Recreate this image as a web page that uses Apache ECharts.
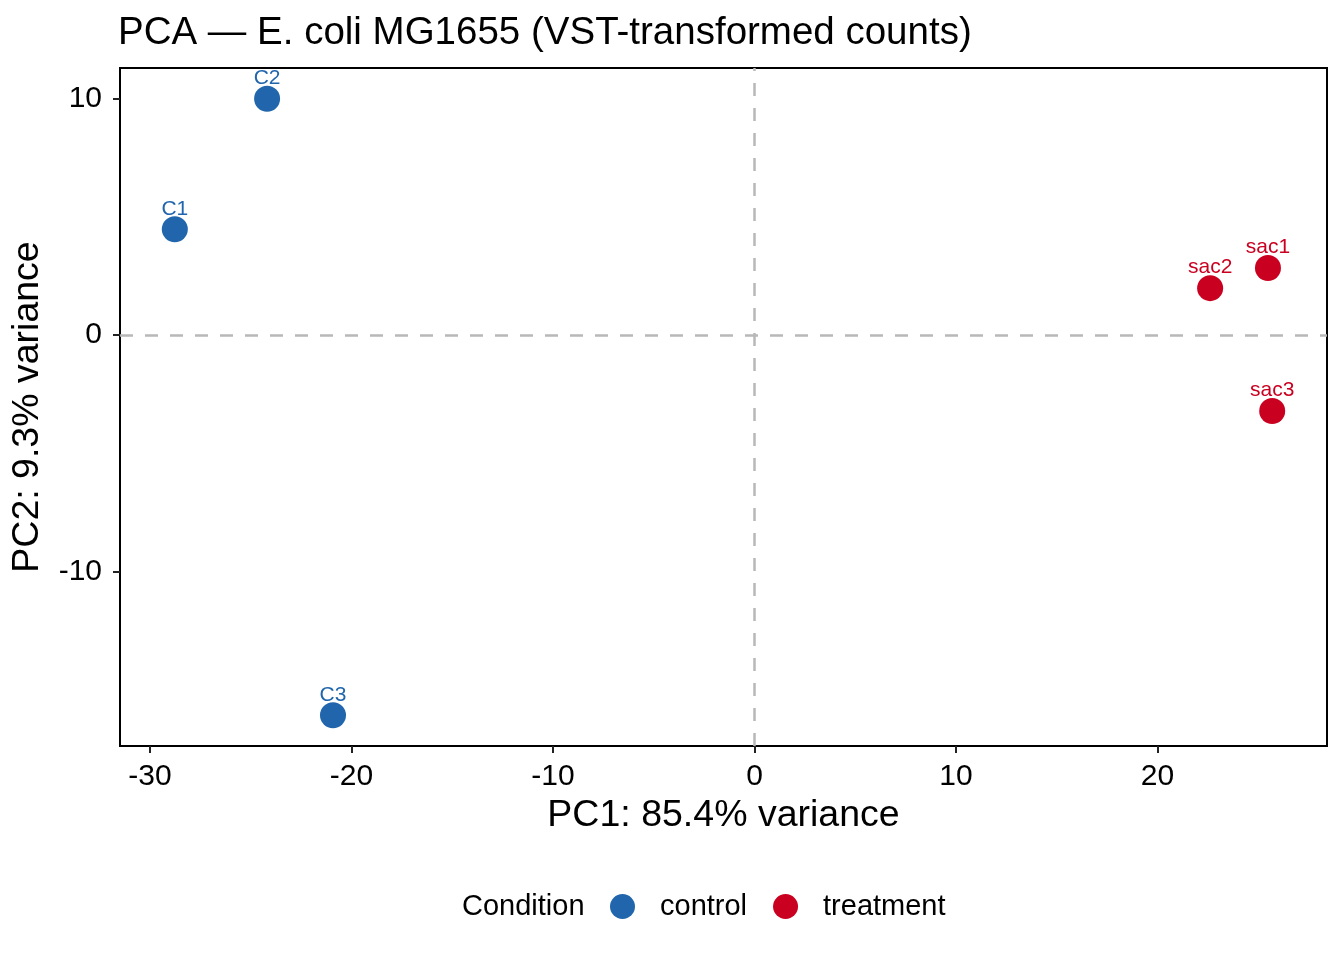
<!DOCTYPE html>
<html>
<head>
<meta charset="utf-8">
<script src="https://cdn.jsdelivr.net/npm/echarts@6/dist/echarts.min.js"></script>
<style>
html,body{margin:0;padding:0;background:#fff;}
#chart{width:1344px;height:960px;}
</style>
</head>
<body>
<div id="chart"></div>
<script>
// Data
const controlNames = ['C1', 'C2', 'C3'];
const controlPC1 = [-28.77, -24.19, -20.92];
const controlPC2 = [4.47, 9.98, -16.06];

const treatmentNames = ['sac1', 'sac2', 'sac3'];
const treatmentPC1 = [25.48, 22.61, 25.69];
const treatmentPC2 = [2.83, 1.98, -3.21];

const xTicks = [-30, -20, -10, 0, 10, 20];
const yTicks = [-10, 0, 10];

const titleText = 'PCA \u2014 E. coli MG1655 (VST-transformed counts)';
const xName = 'PC1: 85.4% variance';
const yName = 'PC2: 9.3% variance';
const legendTitle = 'Condition';
const groups = ['control', 'treatment'];

const FONT = "'Liberation Sans', Arial, Helvetica, sans-serif";
const BLUE = '#2166AC';
const RED = '#CA0020';

function toPoints(names, xs, ys) {
  return names.map((n, i) => ({ name: n, value: [xs[i], ys[i]] }));
}

const chart = echarts.init(document.getElementById('chart'));
const labelOpt = (color) => ({
  show: true,
  position: 'top',
  distance: -3,
  formatter: '{b}',
  color: color,
  fontSize: 21,
  fontFamily: FONT
});

chart.setOption({
  animation: false,
  textStyle: { fontFamily: FONT },
  title: {
    text: titleText,
    left: 118,
    top: 14,
    padding: 0,
    textStyle: { fontSize: 38.5, fontWeight: 'normal', color: '#000', fontFamily: FONT }
  },
  grid: {
    left: 120, right: 17, top: 68, bottom: 214,
    show: true, borderColor: '#000', borderWidth: 2, backgroundColor: 'transparent'
  },
  legend: {
    data: groups,
    left: 610,
    top: 892,
    padding: 0,
    icon: 'circle',
    itemWidth: 25,
    itemHeight: 25,
    itemGap: 26,
    textStyle: { fontSize: 29, color: '#000', fontFamily: FONT, padding: [0, 0, 0, 20] }
  },
  graphic: [{
    type: 'text',
    left: 462,
    top: 892,
    style: { text: legendTitle, fontSize: 29, fontFamily: FONT, fill: '#000' }
  }],
  xAxis: {
    type: 'value',
    min: -31.49,
    max: 28.41,
    name: xName,
    nameLocation: 'middle',
    nameGap: 42,
    nameTextStyle: { fontSize: 37.5, color: '#000', fontFamily: FONT },
    axisLine: { show: false, onZero: false },
    splitLine: { show: false },
    axisTick: { show: true, length: 7, customValues: xTicks, lineStyle: { color: '#222', width: 2 } },
    axisLabel: { customValues: xTicks, fontSize: 30, color: '#000', margin: 16, fontFamily: FONT }
  },
  yAxis: {
    type: 'value',
    min: -17.36,
    max: 11.28,
    name: yName,
    nameLocation: 'middle',
    nameGap: 73,
    nameTextStyle: { fontSize: 37.5, color: '#000', fontFamily: FONT },
    axisLine: { show: false, onZero: false },
    splitLine: { show: false },
    axisTick: { show: true, length: 7, customValues: yTicks, lineStyle: { color: '#222', width: 2 } },
    axisLabel: { customValues: yTicks, fontSize: 30, color: '#000', margin: 18, fontFamily: FONT }
  },
  series: [
    {
      name: 'control',
      type: 'scatter',
      symbol: 'circle',
      symbolSize: 26,
      itemStyle: { color: BLUE, opacity: 1 },
      label: labelOpt(BLUE),
      data: toPoints(controlNames, controlPC1, controlPC2),
      markLine: {
        silent: true,
        symbol: 'none',
        label: { show: false },
        lineStyle: { type: [13, 12], color: '#B8B8B8', width: 2.5 },
        data: [{ xAxis: 0 }, { yAxis: 0 }]
      }
    },
    {
      name: 'treatment',
      type: 'scatter',
      symbol: 'circle',
      symbolSize: 26,
      itemStyle: { color: RED, opacity: 1 },
      label: labelOpt(RED),
      data: toPoints(treatmentNames, treatmentPC1, treatmentPC2)
    }
  ]
});
</script>
</body>
</html>
